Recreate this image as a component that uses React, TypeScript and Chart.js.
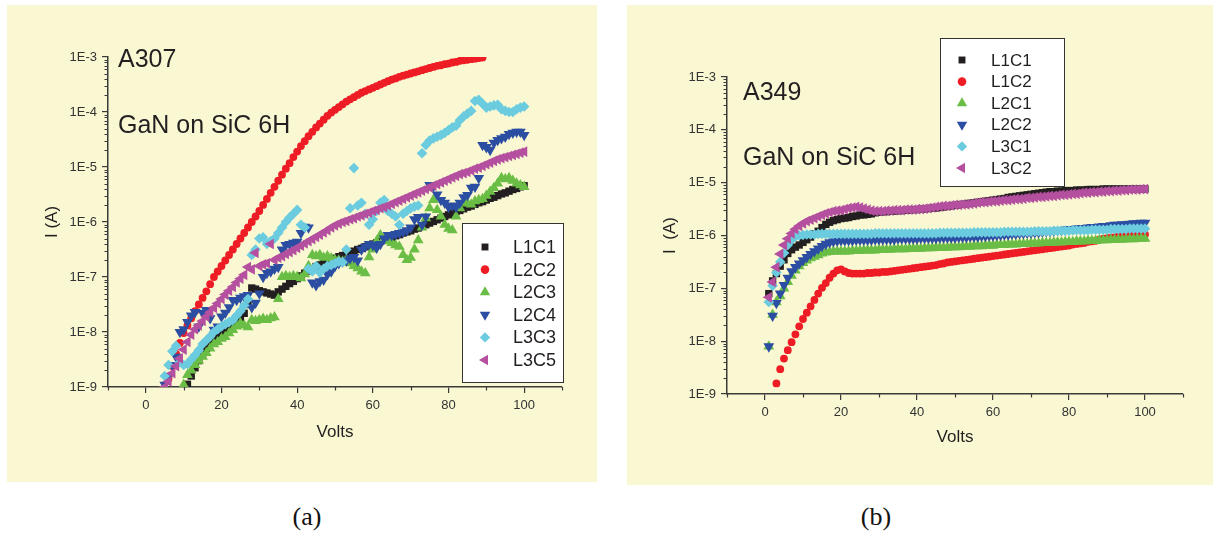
import React, { useEffect, useRef } from 'react';
import { Chart, registerables } from 'chart.js';
import { drawPoint } from 'chart.js/helpers';

Chart.register(...registerables);

// ---------- data ----------
const VOLTS = [
  0, 1, 2, 3, 4, 5, 6, 7, 8, 9, 10, 11, 12, 13, 14, 15, 16, 17, 18, 19, 20,
  21, 22, 23, 24, 25, 26, 27, 28, 29, 30, 31, 32, 33, 34, 35, 36, 37, 38, 39, 40,
  41, 42, 43, 44, 45, 46, 47, 48, 49, 50, 51, 52, 53, 54, 55, 56, 57, 58, 59, 60,
  61, 62, 63, 64, 65, 66, 67, 68, 69, 70, 71, 72, 73, 74, 75, 76, 77, 78, 79, 80,
  81, 82, 83, 84, 85, 86, 87, 88, 89, 90, 91, 92, 93, 94, 95, 96, 97, 98, 99, 100,
];

const Y_TICKS = [1e-9, 1e-8, 1e-7, 1e-6, 1e-5, 1e-4, 1e-3];
const X_TICKS = [0, 20, 40, 60, 80, 100];
const X_MINOR = [-10, 10, 30, 50, 70, 90, 110];

const A307_LABELS = ['L1C1', 'L2C2', 'L2C3', 'L2C4', 'L3C3', 'L3C5'];
const A349_LABELS = ['L1C1', 'L1C2', 'L2C1', 'L2C2', 'L3C1', 'L3C2'];

// Values are log10 of the current in amperes, aligned with VOLTS (null = no point)
const A307_L1C1 = [
  null, null, null, null, null, null, null, null, null, null, null,
  -8.95, -8.8, -8.65, -8.52, -8.4, -8.3, -8.2, -8.14, -8.08, -8.02,
  -7.96, -7.9, -7.85, -7.8, -7.74, -7.66, -7.5, -7.2, -7.22, -7.25,
  -7.27, -7.29, -7.31, -7.33, -7.27, -7.22, -7.17, -7.12, -7.08, -7.03,
  -6.98, -6.93, -6.89, -6.85, -6.81, -6.78, -6.75, -6.72, -6.69, -6.66,
  -6.63, -6.61, -6.58, -6.56, -6.53, -6.5, -6.48, -6.45, -6.43, -6.4,
  -6.38, -6.35, -6.33, -6.3, -6.28, -6.25, -6.23, -6.2, -6.18, -6.16,
  -6.13, -6.11, -6.08, -6.05, -6.02, -5.99, -5.96, -5.93, -5.9, -5.87,
  -5.84, -5.81, -5.79, -5.76, -5.73, -5.71, -5.68, -5.65, -5.63, -5.6,
  -5.57, -5.55, -5.52, -5.49, -5.47, -5.44, -5.41, -5.39, -5.36, -5.34,
];
const A307_L2C2 = [
  null, null, null, null, null, null,
  -8.85, -8.62, -8.4, -8.2, -8.02,
  -7.88, -7.75, -7.62, -7.5, -7.38, -7.26, -7.13, -7.0, -6.9, -6.8,
  -6.7, -6.6, -6.5, -6.4, -6.3, -6.2, -6.1, -6.0, -5.9, -5.8,
  -5.69, -5.58, -5.47, -5.36, -5.25, -5.14, -5.03, -4.93, -4.82, -4.72,
  -4.62, -4.53, -4.44, -4.36, -4.28, -4.21, -4.14, -4.07, -4.01, -3.96,
  -3.91, -3.86, -3.81, -3.77, -3.73, -3.69, -3.65, -3.62, -3.59, -3.56,
  -3.53, -3.5, -3.47, -3.44, -3.41, -3.39, -3.36, -3.34, -3.32, -3.3,
  -3.28, -3.26, -3.24, -3.22, -3.2, -3.18, -3.16, -3.15, -3.13, -3.12,
  -3.1, -3.09, -3.07, -3.06, -3.05, -3.04, -3.03, -3.02, -3.01,
  null, null, null, null, null, null, null, null, null, null, null,
];
const A307_L2C3 = [
  null, null, null, null, null, null, null, null, null, null,
  -8.96,
  -8.78, -8.7, -8.6, -8.52, -8.45, -8.38, -8.3, -8.22, -8.18, -8.12,
  -8.09, -8.02, -7.96, -7.9, -7.84, -7.88, -7.91, -7.78, -7.8, -7.78,
  -7.76, -7.78, -7.75, -7.73, -7.4, -7.0, -6.98, -7.0, -6.98, -7.0,
  -7.02, -6.95, -6.8, -6.6, -6.62, -6.6, -6.65, -6.62, -6.66, -6.69,
  -6.7, -6.72, -6.68, -6.75, -6.8, -6.84, -6.9, -6.93, -6.64, -6.5,
  -6.35, -6.24, -6.3, -6.35, -6.38, -6.42, -6.45, -6.6, -6.69, -6.65,
  -6.5, -6.33, -6.1, -5.93, -5.75, -5.6, -5.78, -5.9, -6.05, -6.12,
  -6.15, -5.9, -5.75, -5.64, -5.66, -5.68, -5.62, -5.6, -5.58, -5.52,
  -5.45, -5.38, -5.3, -5.2, -5.22, -5.2, -5.25, -5.3, -5.33, -5.36,
];
const A307_L2C4 = [
  null, null, null, null, null,
  -8.96, -8.8, -8.6, -8.45, -8.0, -7.95,
  -7.82, -7.7, -7.64, -7.9, -7.65, -7.6, -7.75, -7.96, -7.9, -7.72,
  -7.65, -7.55, -7.42, -7.42, -7.38, -7.35, -7.33, -7.55, -7.47, -7.3,
  -7.0, -6.93, -6.9, -6.85, -6.82, -6.5, -6.42, -6.4, -6.38, -6.36,
  -6.2, -6.09, -6.1, -7.1, -7.15, -7.08, -7.05, -6.95, -6.9, -6.8,
  -6.75, -6.72, -6.7, -6.66, -6.64, -6.7, -6.5, -6.45, -6.4, -6.42,
  -6.47, -6.4, -6.3, -6.24, -6.24, -6.22, -6.2, -6.18, -6.15, -6.1,
  -5.95, -5.91, -6.05, -5.9, -5.33, -5.35, -5.5, -5.6, -5.65, -5.73,
  -5.7, -5.73, -5.65, -5.55, -5.51, -5.38, -5.36, -5.2, -4.6, -4.64,
  -4.69, -4.56, -4.51, -4.48, -4.45, -4.4, -4.38, -4.36, -4.36, -4.42,
];
const A307_L3C3 = [
  null, null, null, null, null,
  -8.8, -8.6, -8.35, -8.25, -8.55, -8.6,
  -8.58, -8.5, -8.42, -8.33, -8.22, -8.15, -8.08, -8.0, -7.95, -7.9,
  -7.86, -7.82, -7.78, -7.7, -7.62, -7.52, -7.4, -6.6, -6.5, -6.3,
  -6.28, -6.4, -6.35, -6.3, -6.2, -6.1, -6.0, -5.92, -5.85, -5.78,
  -6.05, -6.1, -6.85, -6.9, -6.8, -6.92, -6.85, -6.8, -6.78, -6.75,
  -6.72, -6.73, -6.5, -5.75, -5.02, -5.7, -5.65, -5.85, -6.05, -5.95,
  -5.8, -5.65, -5.6, -5.8, -5.85, -5.9, -6.05, -5.85, -5.8, -5.75,
  -5.72, -5.7, -4.75, -4.6, -4.52, -4.48, -4.45, -4.42, -4.38, -4.33,
  -4.28, -4.25, -4.15, -4.08, -4.03, -3.98, -3.8, -3.78, -3.85, -3.92,
  -3.9, -3.88, -3.87, -3.95, -3.98, -4.0, -4.0, -3.95, -3.92, -3.9,
];
const A307_L3C5 = [
  null, null, null, null, null,
  -9.0, -8.9, -8.75, -8.62, -8.48, -8.32,
  -8.18, -8.05, -7.95, -7.88, -7.8, -7.72, -7.64, -7.56, -7.48, -7.4,
  -7.32, -7.25, -7.18, -7.1, -7.03, -6.96, -6.82, -6.86, -6.56, -6.8,
  -6.77, -6.75, -6.4, -6.69, -6.65, -6.62, -6.58, -6.55, -6.51, -6.47,
  -6.43, -6.39, -6.35, -6.31, -6.27, -6.23, -6.19, -6.15, -6.1, -6.06,
  -6.03, -6.0, -5.98, -5.95, -5.93, -5.9, -5.88, -5.85, -5.83, -5.8,
  -5.78, -5.75, -5.73, -5.7, -5.67, -5.64, -5.61, -5.58, -5.55, -5.52,
  -5.49, -5.46, -5.43, -5.4, -5.37, -5.34, -5.31, -5.28, -5.25, -5.22,
  -5.19, -5.16, -5.13, -5.11, -5.09, -5.06, -5.03, -5.01, -4.98, -4.95,
  -4.92, -4.89, -4.86, -4.84, -4.82, -4.8, -4.78, -4.76, -4.74, -4.72,
];

const A349_L1C1 = [
  null,
  -7.1, -6.86, -6.72, -6.58, -6.46, -6.34, -6.27, -6.22, -6.18, -6.13,
  -6.08, -6.03, -5.97, -5.92, -5.85, -5.79, -5.75, -5.72, -5.7, -5.68,
  -5.67, -5.66, -5.64, -5.63, -5.61, -5.61, -5.6, -5.59, -5.57, -5.56,
  -5.55, -5.55, -5.54, -5.54, -5.53, -5.53, -5.52, -5.52, -5.51, -5.51,
  -5.5, -5.5, -5.49, -5.48, -5.48, -5.47, -5.46, -5.45, -5.44, -5.43,
  -5.42, -5.41, -5.4, -5.39, -5.38, -5.37, -5.36, -5.35, -5.34, -5.33,
  -5.32, -5.31, -5.3, -5.28, -5.27, -5.26, -5.25, -5.24, -5.23, -5.22,
  -5.21, -5.2, -5.19, -5.18, -5.17, -5.17, -5.16, -5.16, -5.15, -5.15,
  -5.15, -5.14, -5.14, -5.14, -5.13, -5.13, -5.13, -5.13, -5.12, -5.12,
  -5.12, -5.12, -5.12, -5.12, -5.12, -5.12, -5.12, -5.12, -5.12, -5.12,
];
const A349_L1C2 = [
  null, null, null,
  -8.8, -8.53, -8.33, -8.17, -8.02, -7.87, -7.72, -7.58,
  -7.46, -7.34, -7.22, -7.1, -6.99, -6.9, -6.8, -6.72, -6.66, -6.64,
  -6.68, -6.71, -6.72, -6.72, -6.72, -6.72, -6.71, -6.71, -6.7, -6.7,
  -6.69, -6.69, -6.68, -6.67, -6.66, -6.65, -6.64, -6.63, -6.62, -6.61,
  -6.6, -6.59, -6.58, -6.57, -6.56, -6.54, -6.53, -6.51, -6.5, -6.49,
  -6.48, -6.47, -6.46, -6.45, -6.44, -6.43, -6.42, -6.41, -6.4, -6.39,
  -6.38, -6.37, -6.36, -6.35, -6.34, -6.33, -6.32, -6.31, -6.3, -6.29,
  -6.28, -6.27, -6.26, -6.25, -6.24, -6.23, -6.22, -6.21, -6.2, -6.19,
  -6.17, -6.16, -6.15, -6.14, -6.12, -6.11, -6.1, -6.08, -6.06, -6.05,
  -6.04, -6.03, -6.02, -6.01, -6.0, -6.0, -5.99, -5.99, -5.98, -5.98,
];
const A349_L2C1 = [
  null,
  -8.1, -7.5, -7.26, -7.15, -7.0, -6.88, -6.76, -6.66, -6.58, -6.52,
  -6.47, -6.43, -6.4, -6.37, -6.34, -6.32, -6.31, -6.3, -6.3, -6.3,
  -6.3, -6.3, -6.29, -6.29, -6.29, -6.28, -6.28, -6.28, -6.28, -6.27,
  -6.27, -6.27, -6.27, -6.26, -6.26, -6.26, -6.26, -6.25, -6.25, -6.25,
  -6.25, -6.24, -6.24, -6.24, -6.23, -6.23, -6.23, -6.23, -6.22, -6.22,
  -6.22, -6.21, -6.21, -6.21, -6.2, -6.2, -6.2, -6.19, -6.19, -6.19,
  -6.18, -6.18, -6.18, -6.17, -6.17, -6.17, -6.16, -6.16, -6.16, -6.15,
  -6.15, -6.15, -6.14, -6.14, -6.14, -6.13, -6.13, -6.13, -6.12, -6.12,
  -6.12, -6.11, -6.11, -6.11, -6.1, -6.1, -6.1, -6.09, -6.09, -6.09,
  -6.08, -6.08, -6.08, -6.08, -6.07, -6.07, -6.07, -6.06, -6.06, -6.06,
];
const A349_L2C2 = [
  null,
  -8.1, -7.52, -7.28, -7.1, -6.94, -6.8, -6.68, -6.6, -6.53, -6.47,
  -6.41, -6.35, -6.3, -6.25, -6.2, -6.16, -6.13, -6.11, -6.1, -6.09,
  -6.09, -6.09, -6.09, -6.08, -6.08, -6.08, -6.08, -6.08, -6.07, -6.07,
  -6.07, -6.07, -6.07, -6.07, -6.06, -6.06, -6.06, -6.06, -6.06, -6.06,
  -6.05, -6.05, -6.05, -6.05, -6.05, -6.04, -6.04, -6.04, -6.04, -6.04,
  -6.03, -6.03, -6.03, -6.02, -6.02, -6.02, -6.01, -6.01, -6.0, -6.0,
  -5.99, -5.99, -5.98, -5.98, -5.97, -5.97, -5.96, -5.96, -5.95, -5.95,
  -5.94, -5.94, -5.93, -5.92, -5.92, -5.91, -5.9, -5.9, -5.89, -5.88,
  -5.88, -5.87, -5.86, -5.86, -5.85, -5.84, -5.84, -5.83, -5.82, -5.82,
  -5.81, -5.8, -5.8, -5.79, -5.79, -5.78, -5.77, -5.77, -5.76, -5.76,
];
const A349_L3C1 = [
  null,
  -7.26, -6.95, -6.7, -6.5, -6.33, -6.18, -6.08, -6.02, -6.0, -5.99,
  -5.98, -5.98, -5.98, -5.97, -5.97, -5.97, -5.97, -5.97, -5.97, -5.97,
  -5.97, -5.97, -5.97, -5.97, -5.97, -5.97, -5.97, -5.97, -5.96, -5.96,
  -5.96, -5.96, -5.96, -5.96, -5.96, -5.96, -5.96, -5.96, -5.96, -5.96,
  -5.96, -5.96, -5.96, -5.96, -5.96, -5.95, -5.95, -5.95, -5.95, -5.95,
  -5.95, -5.95, -5.95, -5.95, -5.94, -5.94, -5.94, -5.94, -5.94, -5.94,
  -5.94, -5.94, -5.93, -5.93, -5.93, -5.93, -5.93, -5.93, -5.93, -5.93,
  -5.92, -5.92, -5.92, -5.92, -5.92, -5.91, -5.91, -5.91, -5.91, -5.91,
  -5.9, -5.9, -5.9, -5.9, -5.9, -5.89, -5.89, -5.89, -5.89, -5.89,
  -5.88, -5.88, -5.88, -5.88, -5.88, -5.87, -5.87, -5.87, -5.87, -5.87,
];
const A349_L3C2 = [
  null,
  -7.17, -6.88, -6.6, -6.35, -6.18, -6.06, -5.96, -5.88, -5.82, -5.77,
  -5.73, -5.7, -5.67, -5.64, -5.61, -5.58, -5.56, -5.54, -5.53, -5.52,
  -5.5, -5.48, -5.47, -5.46, -5.47, -5.49, -5.51, -5.53, -5.54, -5.54,
  -5.54, -5.53, -5.53, -5.52, -5.52, -5.52, -5.51, -5.51, -5.51, -5.5,
  -5.5, -5.49, -5.48, -5.47, -5.46, -5.45, -5.44, -5.44, -5.43, -5.42,
  -5.42, -5.41, -5.41, -5.4, -5.39, -5.38, -5.37, -5.37, -5.36, -5.35,
  -5.35, -5.34, -5.33, -5.33, -5.32, -5.31, -5.31, -5.3, -5.29, -5.29,
  -5.28, -5.27, -5.27, -5.26, -5.25, -5.25, -5.24, -5.23, -5.23, -5.22,
  -5.21, -5.21, -5.2, -5.19, -5.19, -5.18, -5.18, -5.17, -5.17, -5.16,
  -5.16, -5.15, -5.15, -5.14, -5.14, -5.13, -5.13, -5.13, -5.12, -5.12,
];

const A307_SERIES = [A307_L1C1, A307_L2C2, A307_L2C3, A307_L2C4, A307_L3C3, A307_L3C5];
const A349_SERIES = [A349_L1C1, A349_L1C2, A349_L2C1, A349_L2C2, A349_L3C1, A349_L3C2];

// ---------- styles ----------
const SANS = '"Liberation Sans", Arial, Helvetica, sans-serif';
const SERIF = '"Liberation Serif", "Times New Roman", serif';
const AXIS = '#3a3a3a';
const TEXT = '#231f20';
const PANEL_BG = '#FAF8D3';

const MARKERS = [
  { color: '#231f20', style: 'rect', rotation: 0, radius: 5.2 },
  { color: '#ee1c25', style: 'circle', rotation: 0, radius: 3.9 },
  { color: '#6abd45', style: 'triangle', rotation: 0, radius: 6.2 },
  { color: '#2b4ea2', style: 'triangle', rotation: 180, radius: 6.2 },
  { color: '#6bcbdf', style: 'rectRot', rotation: 0, radius: 5.3 },
  { color: '#b4509f', style: 'triangle', rotation: 270, radius: 6.2 },
];
const LEGEND_RADII = [4.9, 4.3, 6.0, 6.0, 5.2, 6.0];

function minorLogTicks(): number[] {
  const out: number[] = [];
  for (let i = 0; i < Y_TICKS.length - 1; i++) {
    for (let m = 2; m <= 9; m++) out.push(m * Y_TICKS[i]);
  }
  return out;
}
const Y_MINOR = minorLogTicks();

const decorPlugin = {
  id: 'decor',
  afterDraw(chart: any, _args: any, opts: any) {
    const ctx = chart.ctx as CanvasRenderingContext2D;
    const { left, bottom } = chart.chartArea;
    const xs = chart.scales.x;
    const ys = chart.scales.y;
    ctx.save();
    ctx.strokeStyle = AXIS;
    ctx.lineWidth = 1.2;
    ctx.beginPath();
    X_MINOR.forEach((v) => {
      const px = Math.round(xs.getPixelForValue(v)) + 0.5;
      ctx.moveTo(px, bottom);
      ctx.lineTo(px, bottom + 3.5);
    });
    Y_MINOR.forEach((v) => {
      const py = Math.round(ys.getPixelForValue(v)) + 0.5;
      ctx.moveTo(left, py);
      ctx.lineTo(left - 3.5, py);
    });
    ctx.stroke();

    const L = opts.legend;
    ctx.fillStyle = '#ffffff';
    ctx.fillRect(L.x, L.y, L.w, L.h);
    ctx.strokeStyle = '#333';
    ctx.lineWidth = 1;
    ctx.strokeRect(L.x + 0.5, L.y + 0.5, L.w, L.h);
    chart.data.datasets.forEach((ds: any, i: number) => {
      const y = L.firstY + i * L.step;
      ctx.fillStyle = ds.backgroundColor;
      drawPoint(ctx, { pointStyle: ds.pointStyle, rotation: ds.pointRotation, radius: LEGEND_RADII[i], borderWidth: 0 } as any, L.markerX, y);
      ctx.fillStyle = TEXT;
      ctx.font = `${L.fontSize}px ${SANS}`;
      ctx.textBaseline = 'middle';
      ctx.textAlign = 'left';
      ctx.fillText(ds.label, L.textX, y + 1);
    });
    ctx.restore();
  },
};

type PanelCfg = {
  left: number; top: number; w: number; h: number;
  yAxisWidth: number; padding: { left: number; right: number; top: number; bottom: number };
  xTitleBottomPad: number; yTitlePad: number; yTitle: string;
  labels: string[]; series: (number | null)[][];
  legend: any;
};

function buildConfig(p: PanelCfg): any {
  const datasets = p.series.map((logs, i) => {
    const data: { x: number; y: number }[] = [];
    VOLTS.forEach((v, k) => {
      const l = logs[k];
      if (l !== null && l !== undefined) data.push({ x: v, y: Math.pow(10, l) });
    });
    const mk = MARKERS[i];
    return {
      label: p.labels[i],
      data,
      backgroundColor: mk.color,
      borderColor: mk.color,
      borderWidth: 0,
      pointBorderWidth: 0,
      pointStyle: mk.style,
      pointRotation: mk.rotation,
      pointRadius: mk.radius,
      pointHoverRadius: mk.radius,
      showLine: false,
      order: p.series.length - i,
    };
  });
  const tickFont = { family: SANS, size: 13 };
  const titleFont = { family: SANS, size: 17 };
  return {
    type: 'scatter',
    data: { datasets },
    plugins: [decorPlugin],
    options: {
      animation: false,
      responsive: false,
      maintainAspectRatio: false,
      devicePixelRatio: 1,
      events: [],
      layout: { padding: p.padding },
      plugins: {
        legend: { display: false },
        tooltip: { enabled: false },
        decor: { legend: p.legend },
      },
      scales: {
        x: {
          type: 'linear',
          min: -10,
          max: 110,
          afterBuildTicks: (s: any) => { s.ticks = X_TICKS.map((v) => ({ value: v })); },
          afterFit: (s: any) => { s.height = 60; },
          ticks: { font: tickFont, color: '#333', padding: 5, autoSkip: false, maxRotation: 0 },
          grid: { display: true, drawOnChartArea: false, drawTicks: true, tickLength: 6, color: AXIS, lineWidth: 1.2 },
          border: { display: true, color: AXIS, width: 1.5 },
          title: { display: true, text: 'Volts', font: titleFont, color: TEXT, padding: { top: 0, bottom: p.xTitleBottomPad } },
        },
        y: {
          type: 'logarithmic',
          min: 1e-9,
          max: 1e-3,
          afterBuildTicks: (s: any) => { s.ticks = Y_TICKS.map((v) => ({ value: v })); },
          afterFit: (s: any) => { s.width = p.yAxisWidth; },
          ticks: {
            font: tickFont,
            color: '#333',
            padding: 5,
            autoSkip: false,
            callback: (v: any) => '1E' + Math.round(Math.log10(Number(v))),
          },
          grid: { display: true, drawOnChartArea: false, drawTicks: true, tickLength: 6, color: AXIS, lineWidth: 1.2 },
          border: { display: true, color: AXIS, width: 1.5 },
          title: { display: true, text: p.yTitle, font: titleFont, color: TEXT, padding: { top: p.yTitlePad, bottom: 0 } },
        },
      },
    },
  };
}

const PANEL_A: PanelCfg = {
  left: 7, top: 5, w: 590, h: 477,
  yAxisWidth: 101,
  padding: { left: 0, right: 35, top: 52, bottom: 35 },
  xTitleBottomPad: 4,
  yTitlePad: 35,
  yTitle: 'I (A)',
  labels: A307_LABELS,
  series: A307_SERIES,
  legend: { x: 455, y: 218, w: 101, h: 159, markerX: 478, textX: 506, firstY: 242, step: 22.6, fontSize: 18 },
};

const PANEL_B: PanelCfg = {
  left: 627, top: 5, w: 586, h: 480,
  yAxisWidth: 100,
  padding: { left: 0, right: 30, top: 72, bottom: 31 },
  xTitleBottomPad: 6,
  yTitlePad: 33,
  yTitle: 'I  (A)',
  labels: A349_LABELS,
  series: A349_SERIES,
  legend: { x: 313, y: 33, w: 124, h: 148, markerX: 335, textX: 364, firstY: 55, step: 21.6, fontSize: 17 },
};

function Panel({ cfg, name, sub }: { cfg: PanelCfg; name: string; sub: string }) {
  const ref = useRef<HTMLCanvasElement | null>(null);
  useEffect(() => {
    if (!ref.current) return;
    const chart = new Chart(ref.current, buildConfig(cfg));
    return () => chart.destroy();
  }, [cfg]);
  const textStyle: React.CSSProperties = {
    position: 'absolute',
    fontFamily: SANS,
    fontSize: 25,
    lineHeight: '25px',
    color: TEXT,
    whiteSpace: 'nowrap',
  };
  const isA = cfg === PANEL_A;
  return (
    <div style={{ position: 'absolute', left: cfg.left, top: cfg.top, width: cfg.w, height: cfg.h, background: PANEL_BG }}>
      <canvas ref={ref} width={cfg.w} height={cfg.h} style={{ position: 'absolute', left: 0, top: 0, width: cfg.w, height: cfg.h }} />
      <div style={{ ...textStyle, left: isA ? 111 : 116, top: isA ? 41 : 74 }}>{name}</div>
      <div style={{ ...textStyle, left: isA ? 111 : 116, top: isA ? 107 : 139 }}>{sub}</div>
    </div>
  );
}

export default function App() {
  return (
    <div style={{ position: 'absolute', left: 0, top: 0, width: 1213, height: 537, background: '#ffffff', overflow: 'hidden' }}>
      <Panel cfg={PANEL_A} name="A307" sub="GaN on SiC 6H" />
      <Panel cfg={PANEL_B} name="A349" sub="GaN on SiC 6H" />
      <div style={{ position: 'absolute', left: 257, width: 100, top: 504, textAlign: 'center', fontFamily: SERIF, fontSize: 26, lineHeight: '26px', color: '#111' }}>(a)</div>
      <div style={{ position: 'absolute', left: 826, width: 100, top: 504, textAlign: 'center', fontFamily: SERIF, fontSize: 26, lineHeight: '26px', color: '#111' }}>(b)</div>
    </div>
  );
}
